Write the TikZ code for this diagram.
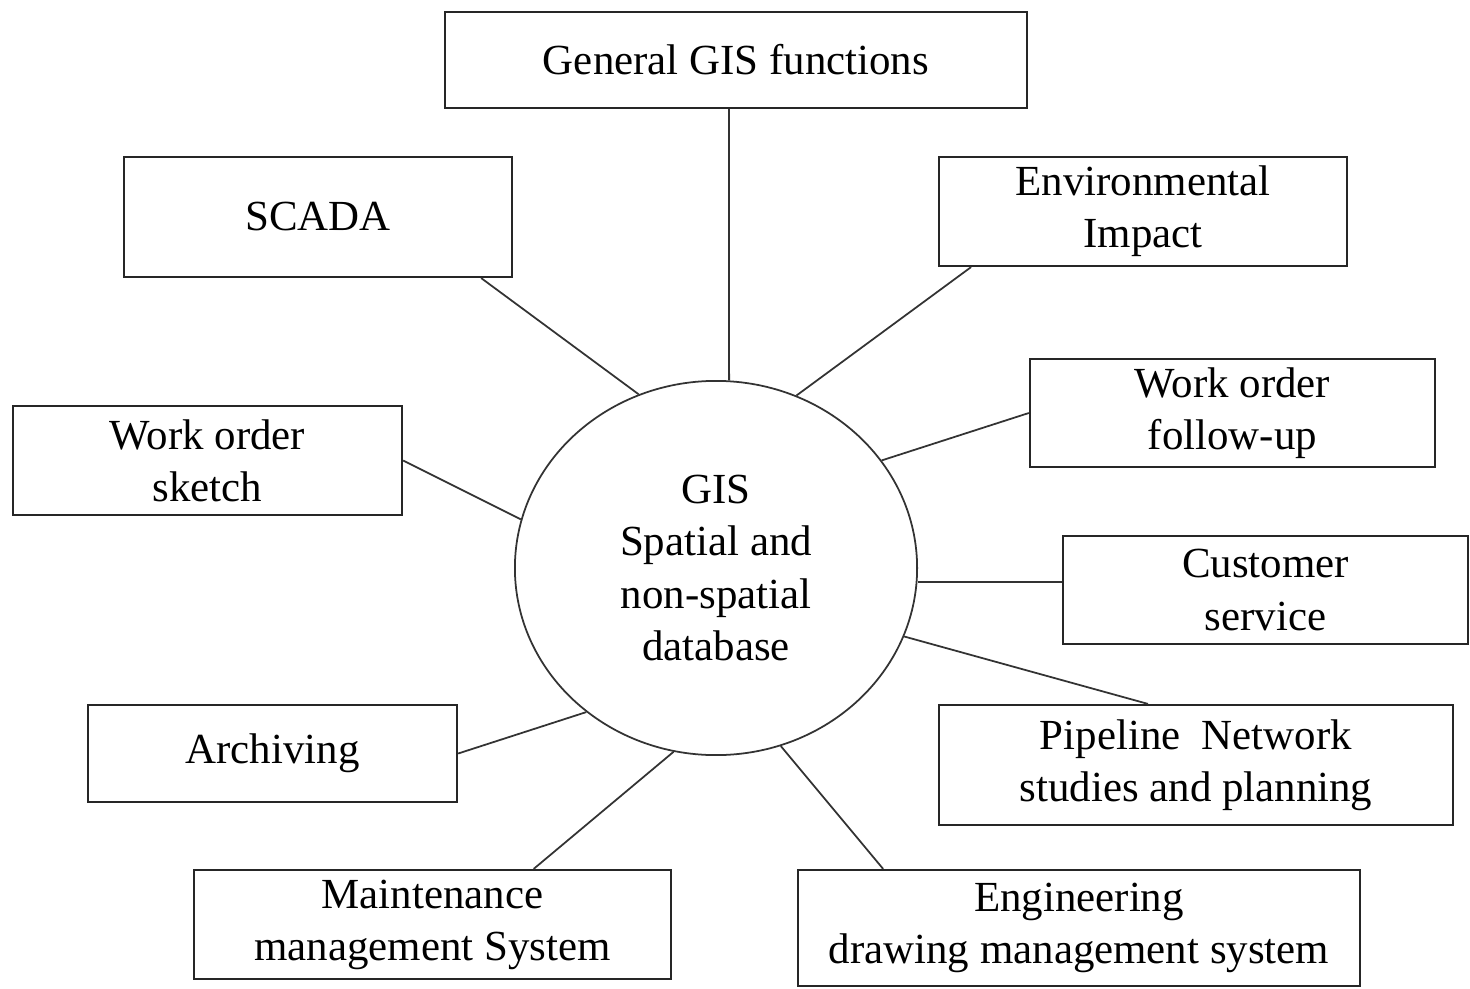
\documentclass[tikz,border=0pt]{standalone}
\usepackage{fontspec}
\setmainfont{Liberation Serif}
\usetikzlibrary{shapes.geometric,calc}
\begin{document}
\begin{tikzpicture}[x=0.01cm,y=-0.01cm,
  box/.style={draw=black!85,line width=0.6pt,inner sep=0pt,align=center,font=\fontsize{12.2}{14.8}\selectfont},
  link/.style={draw=black!80,line width=0.5pt}]
\useasboundingbox (0,0) rectangle (1470,988);
\node[draw=black!80,line width=0.5pt,ellipse,minimum width=4.02cm,minimum height=3.74cm,inner sep=0pt,align=center,font=\fontsize{12.2}{14.8}\selectfont] (circ) at (716,568) {GIS\\Spatial and\\non-spatial\\database};
\node[box,minimum width=5.82cm,minimum height=0.96cm] (gen) at (736,60) {General GIS functions};
\node[box,minimum width=3.88cm,minimum height=1.20cm] (scada) at (318,217) {SCADA};
\node[box,minimum width=4.08cm,minimum height=1.09cm] (env) at (1143,211.5) {Environmental\\Impact};
\node[box,minimum width=4.05cm,minimum height=1.08cm] (wofu) at (1232.5,413) {Work order\\follow-up};
\node[box,minimum width=3.89cm,minimum height=1.09cm] (wos) at (207.5,460.5) {Work order\\sketch};
\node[box,minimum width=4.05cm,minimum height=1.08cm] (cust) at (1265.5,590) {Customer\\service};
\node[box,minimum width=5.14cm,minimum height=1.20cm] (pipe) at (1196,765) {Pipeline\enspace Network\\studies and planning};
\node[box,minimum width=3.69cm,minimum height=0.97cm] (arch) at (272.5,753.5) {Archiving};
\node[box,minimum width=4.77cm,minimum height=1.09cm] (maint) at (432.5,924.5) {Maintenance\\management System};
\node[box,minimum width=5.62cm,minimum height=1.16cm] (eng) at (1079,928) {Engineering\\drawing management system};
\coordinate (custin) at ($(cust.west)+(0,-8)$);
\draw[link] ($(gen.south west)!0.488!(gen.south east)$) -- (circ.86);
\draw[link] ($(scada.south west)!0.918!(scada.south east)$) -- (circ.114);
\draw[link] ($(env.south west)!0.081!(env.south east)$) -- (circ.65);
\draw[link] (wofu.west) -- (circ.33);
\draw[link] (wos.east) -- (circ.166);
\draw[link] (custin) -- (custin -| circ.east);
\draw[link] ($(pipe.north west)!0.407!(pipe.north east)$) -- (circ.-20);
\draw[link] (arch.east) -- (circ.228);
\draw[link] ($(maint.north west)!0.711!(maint.north east)$) -- (circ.257);
\draw[link] ($(eng.north west)!0.153!(eng.north east)$) -- (circ.290);
\end{tikzpicture}
\end{document}
